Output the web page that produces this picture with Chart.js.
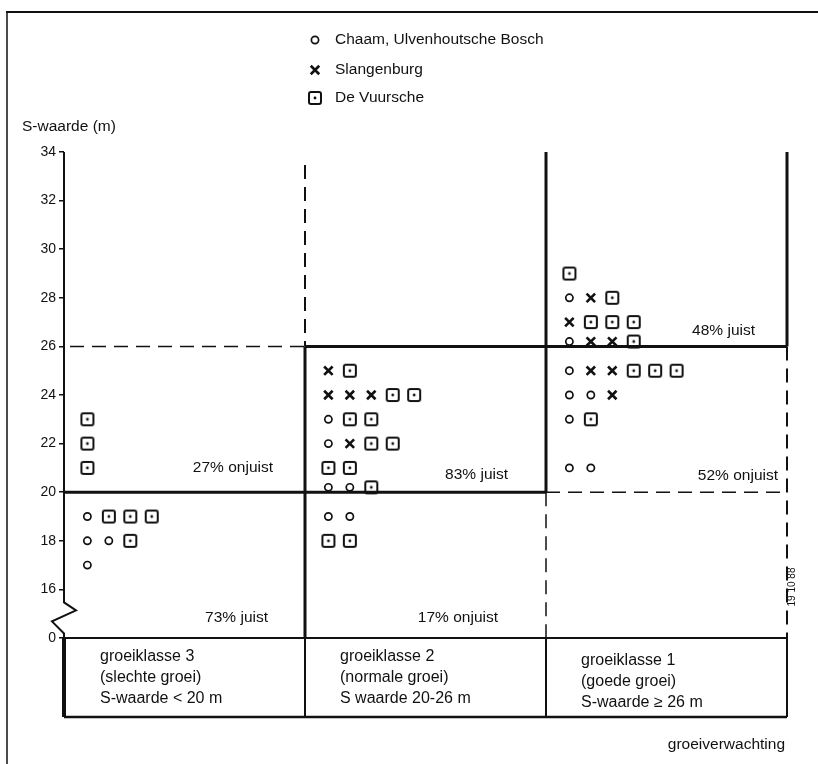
<!DOCTYPE html>
<html>
<head>
<meta charset="utf-8">
<script src="https://cdn.jsdelivr.net/npm/chart.js@4.4.1/dist/chart.umd.min.js"></script>
<style>
  html, body { margin: 0; padding: 0; background: #fff; }
  #wrap { width: 818px; height: 764px; }
</style>
</head>
<body>
<div id="wrap"><canvas id="sChart" width="818" height="764"></canvas></div>
<script>
// ==================== DATA ====================
// kolommen: groeiverwachting (groeiklasse 3, 2, 1), waarden: gemeten S-waarde (m)
const klassen = ['groeiklasse 3', 'groeiklasse 2', 'groeiklasse 1'];
const klasseGroei = ['(slechte groei)', '(normale groei)', '(goede groei)'];
const klasseGrens = ['S-waarde < 20 m', 'S waarde 20-26 m', 'S-waarde \u2265 26 m'];

const chaamKl3 = [19, 18, 18, 17];
const chaamKl2 = [23, 22, 20.2, 20.2, 19, 19];
const chaamKl1 = [28, 26.2, 25, 24, 24, 23, 21, 21];

const slangKl3 = [];
const slangKl2 = [25, 24, 24, 24, 22];
const slangKl1 = [28, 27, 26.2, 26.2, 25, 25, 24];

const vuurKl3 = [23, 22, 21, 19, 19, 19, 18];
const vuurKl2 = [25, 24, 24, 23, 23, 22, 22, 21, 21, 20.2, 18, 18];
const vuurKl1 = [29, 28, 27, 27, 27, 26.2, 25, 25, 25, 23];

const sTicks = [14, 16, 18, 20, 22, 24, 26, 28, 30, 32, 34]; // 14 = asbreuk, label "0"
const percentages = ['27% onjuist', '83% juist', '52% onjuist', '48% juist', '73% juist', '17% onjuist'];

const FONT = "'Liberation Sans', Arial, sans-serif";

// ==================== MARKERS ====================
function maakVierkant() {
  const c = document.createElement('canvas');
  c.width = 16; c.height = 16;
  const g = c.getContext('2d');
  g.strokeStyle = '#111';
  g.lineWidth = 2;
  g.beginPath();
  g.roundRect(2, 2, 12, 12, 2);
  g.stroke();
  g.fillStyle = '#111';
  g.beginPath();
  g.arc(8, 8, 1.4, 0, Math.PI * 2);
  g.fill();
  return c;
}
const vierkant = maakVierkant();

// x-positie binnen een kolom: rijen met dezelfde S-waarde naast elkaar
const telling = {};
function maakPunten(perKlasse) {
  const pts = [];
  perKlasse.forEach((waarden, kol) => {
    waarden.forEach(s => {
      const key = kol + '|' + s;
      const slot = telling[key] || 0;
      telling[key] = slot + 1;
      pts.push({ x: kol + 0.097 + slot * 0.089, y: s });
    });
  });
  return pts;
}

const chaamPunten = maakPunten([chaamKl3, chaamKl2, chaamKl1]);
const slangPunten = maakPunten([slangKl3, slangKl2, slangKl1]);
const vuurPunten = maakPunten([vuurKl3, vuurKl2, vuurKl1]);

const reeksen = [
  { label: 'Chaam, Ulvenhoutsche Bosch', data: chaamPunten, pointStyle: 'circle', pointRadius: 3.6, pointBorderWidth: 1.7, pointBackgroundColor: '#fff' },
  { label: 'Slangenburg', data: slangPunten, pointStyle: 'crossRot', pointRadius: 6, pointBorderWidth: 2.6, pointBackgroundColor: '#111' },
  { label: 'De Vuursche', data: vuurPunten, pointStyle: vierkant, pointRadius: 7, pointBorderWidth: 2, pointBackgroundColor: '#fff' }
];

// ==================== DRAWING HELPERS ====================
function lijn(ctx, pts, w, dash) {
  ctx.save();
  ctx.strokeStyle = '#111';
  ctx.lineWidth = w;
  ctx.setLineDash(dash || []);
  ctx.lineCap = 'butt';
  ctx.beginPath();
  ctx.moveTo(pts[0][0], pts[0][1]);
  for (let i = 1; i < pts.length; i++) ctx.lineTo(pts[i][0], pts[i][1]);
  ctx.stroke();
  ctx.restore();
}

function tekst(ctx, t, x, y, size, align) {
  ctx.save();
  ctx.fillStyle = '#111';
  ctx.font = size + 'px ' + FONT;
  ctx.textAlign = align || 'left';
  ctx.textBaseline = 'middle';
  ctx.fillText(t, x, y);
  ctx.restore();
}

const kader = {
  id: 'kader',
  beforeDatasetsDraw(chart) {
    const ctx = chart.ctx;
    const x = chart.scales.x, y = chart.scales.y;
    const X = [0, 1, 2, 3].map(v => x.getPixelForValue(v));
    const y34 = y.getPixelForValue(34), y26 = y.getPixelForValue(26), y20 = y.getPixelForValue(20);
    const y16 = y.getPixelForValue(16), y14 = y.getPixelForValue(14), yB = chart.chartArea.bottom;
    const dash = [14, 8];

    // pagina-rand
    lijn(ctx, [[6, 12], [818, 12]], 2);
    lijn(ctx, [[7, 12], [7, 764]], 1.5);

    // y-as met breuk
    lijn(ctx, [[X[0], y34], [X[0], y16 + 13], [X[0] + 12, y16 + 21], [X[0] - 12, y16 + 32], [X[0], y16 + 44], [X[0], y14]], 2);

    // doorgetrokken grenzen (juiste voorspelling)
    lijn(ctx, [[X[0], y20], [X[2], y20]], 3);
    lijn(ctx, [[X[1], y26], [X[3], y26]], 3);
    lijn(ctx, [[X[1], y26], [X[1], y14]], 3);
    lijn(ctx, [[X[2], y34], [X[2], y20]], 3);
    lijn(ctx, [[X[3], y34], [X[3], y26]], 3);

    // gestreepte grenzen
    lijn(ctx, [[X[0] + 6, y26], [X[1], y26]], 1.5, dash);
    lijn(ctx, [[X[1], y34 + 13], [X[1], y26]], 2, dash);
    lijn(ctx, [[X[2], y20], [X[3], y20]], 1.5, dash);
    lijn(ctx, [[X[2], y20], [X[2], y14]], 1.5, dash);
    lijn(ctx, [[X[3], y26], [X[3], y14]], 2, dash);

    // klassenvak onderaan
    lijn(ctx, [[X[0], y14], [X[3], y14]], 2);
    lijn(ctx, [[X[0], yB], [X[3], yB]], 2.5);
    lijn(ctx, [[X[0], y14], [X[0], yB]], 4);
    lijn(ctx, [[X[1], y14], [X[1], yB]], 2);
    lijn(ctx, [[X[2], y14], [X[2], yB]], 2);
    lijn(ctx, [[X[3], y14], [X[3], yB]], 2);
  },
  afterDraw(chart) {
    const ctx = chart.ctx;
    const x = chart.scales.x, y = chart.scales.y;
    const X = [0, 1, 2, 3].map(v => x.getPixelForValue(v));
    const y26 = y.getPixelForValue(26), y20 = y.getPixelForValue(20), y14 = y.getPixelForValue(14);
    const yB = chart.chartArea.bottom;

    // legenda
    const legY = [40, 70, 98];
    reeksen.forEach((r, i) => {
      const opts = { pointStyle: r.pointStyle, radius: r.pointRadius, borderWidth: r.pointBorderWidth, rotation: 0 };
      ctx.save();
      ctx.strokeStyle = '#111';
      ctx.fillStyle = r.pointBackgroundColor;
      ctx.lineWidth = r.pointBorderWidth;
      Chart.helpers.drawPoint(ctx, opts, 315, legY[i]);
      ctx.restore();
      tekst(ctx, r.label, 335, legY[i], 15.5);
    });

    // as-titel
    tekst(ctx, 'S-waarde (m)', 22, 127, 15.5);

    // percentages
    tekst(ctx, percentages[0], X[1] - 32, y20 - 24, 15.5, 'right');
    tekst(ctx, percentages[1], X[2] - 38, y20 - 17, 15.5, 'right');
    tekst(ctx, percentages[2], X[3] - 9, y20 - 16, 15.5, 'right');
    tekst(ctx, percentages[3], X[3] - 32, y26 - 16, 15.5, 'right');
    tekst(ctx, percentages[4], X[1] - 37, y14 - 20, 15.5, 'right');
    tekst(ctx, percentages[5], X[2] - 48, y14 - 20, 15.5, 'right');

    // klassen
    const dy = [0, 0, 4];
    klassen.forEach((k, i) => {
      const tx = X[i] + (i === 0 ? 36 : 35);
      tekst(ctx, k, tx, y14 + 19 + dy[i], 16);
      tekst(ctx, klasseGroei[i], tx, y14 + 40 + dy[i], 16);
      tekst(ctx, klasseGrens[i], tx, y14 + 61 + dy[i], 16);
    });

    tekst(ctx, 'groeiverwachting', X[3] - 2, yB + 28, 15.5, 'right');

    // figuurnummer
    ctx.save();
    ctx.translate(X[3] + 5, 587);
    ctx.rotate(-Math.PI / 2);
    tekst(ctx, '19 10 88', 0, 0, 10, 'center');
    ctx.restore();
  }
};

// ==================== CHART ====================
new Chart(document.getElementById('sChart'), {
  type: 'scatter',
  data: {
    datasets: reeksen.map(r => Object.assign({
      borderColor: '#111',
      showLine: false,
      clip: false
    }, r))
  },
  options: {
    responsive: false,
    animation: false,
    devicePixelRatio: 1,
    layout: { padding: { left: 0, right: 31, top: 152, bottom: 47 } },
    plugins: { legend: { display: false }, tooltip: { enabled: false } },
    scales: {
      x: { type: 'linear', min: 0, max: 3, display: false },
      y: {
        type: 'linear',
        min: 10.75,
        max: 34,
        afterBuildTicks: s => { s.ticks = sTicks.map(v => ({ value: v })); },
        afterFit: s => { s.width = 64; },
        border: { display: false },
        grid: { drawOnChartArea: false, drawTicks: true, tickLength: 5, color: '#111', lineWidth: 1.5 },
        ticks: {
          color: '#111',
          font: { family: FONT, size: 14 },
          padding: 3,
          callback: v => (v === 14 ? '0' : v)
        }
      }
    }
  },
  plugins: [kader]
});
</script>
</body>
</html>
